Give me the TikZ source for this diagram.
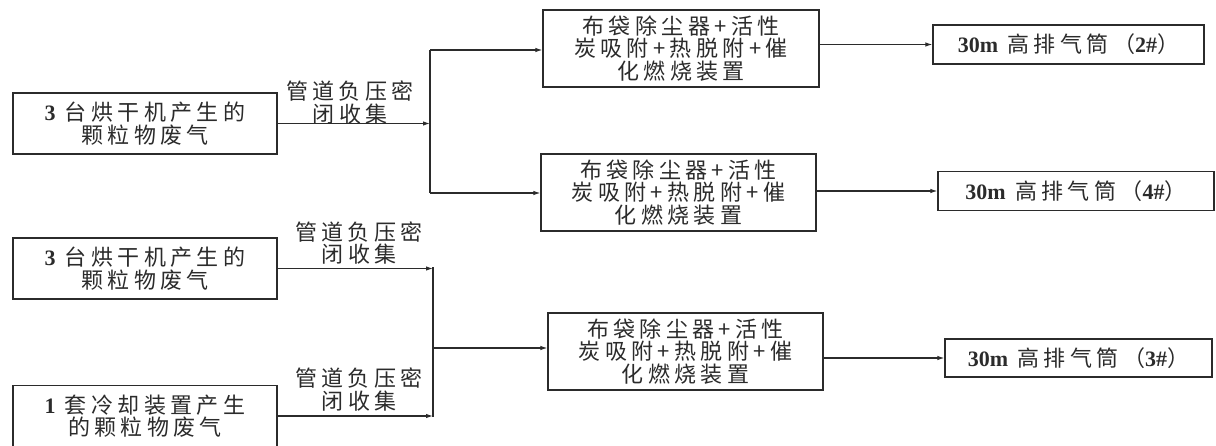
\documentclass[tikz,border=0pt]{standalone}
\usepackage{fontspec}
\setmainfont[LetterSpace=20]{Noto Sans CJK SC}
\newfontfamily\latn{Liberation Serif}
\usepackage{xcolor}
\definecolor{ink}{HTML}{2B2B2B}
\usetikzlibrary{arrows.meta}

\begin{document}
\begin{tikzpicture}[x=1pt,y=-1pt,
  every node/.style={font=\fontsize{22}{22.5}\selectfont, text=ink, align=center, inner sep=0pt},
  box/.style={draw=ink, line width=1.2pt, minimum width=264pt, minimum height=61pt},
  unitbox/.style={box, minimum width=276pt, minimum height=77pt},
  stackbox/.style={box, minimum width=271pt, minimum height=39pt},
  arr/.style={draw=ink, line width=1.1pt, -{Latex[length=7pt,width=4.5pt]}},
  bus/.style={draw=ink, line width=1.2pt}]
\useasboundingbox (0,0) rectangle (1216,445);
\clip (0,0) rectangle (1216,445);
\node[box] (src1) at (145,123.5) {{\latn\bfseries 3} 台烘干机产生的\\颗粒物废气};
\node[box] (src2) at (145,268.5) {{\latn\bfseries 3} 台烘干机产生的\\颗粒物废气};
\node[box] (src3) at (145,416) {{\latn\bfseries 1} 套冷却装置产生\\的颗粒物废气};
\node (pipe1) at (350,102.5) {管道负压密\\闭收集};
\node (pipe2) at (359,243) {管道负压密\\闭收集};
\node (pipe3) at (359,389.5) {管道负压密\\闭收集};
\node[unitbox] (unit1) at (681,48.5) {布袋除尘器+活性\\炭吸附+热脱附+催\\化燃烧装置};
\node[unitbox, minimum width=275pt] (unit2) at (678.5,192.5) {布袋除尘器+活性\\炭吸附+热脱附+催\\化燃烧装置};
\node[unitbox, minimum width=275pt] (unit3) at (685.5,351.5) {布袋除尘器+活性\\炭吸附+热脱附+催\\化燃烧装置};
\node[stackbox] (stack1) at (1068.5,44.5) {{\latn\bfseries 30m} 高排气筒（{\latn\bfseries 2\#}）};
\node[stackbox, minimum width=276pt] (stack2) at (1076,191) {{\latn\bfseries 30m} 高排气筒（{\latn\bfseries 4\#}）};
\node[stackbox, minimum width=267pt, minimum height=38pt] (stack3) at (1078.5,358) {{\latn\bfseries 30m} 高排气筒（{\latn\bfseries 3\#}）};
\coordinate (j1) at (430,50);
\coordinate (j2) at (430,193);
\coordinate (k1) at (433,267);
\coordinate (k2) at (433,417);
\coordinate (k3) at (433,348);
\draw[bus] (j1) -- (j2);
\draw[bus] (k1) -- (k2);
\draw[arr] (src1.east) -- (src1.east -| j1);
\draw[arr] (src2.east) -- (src2.east -| k1);
\draw[arr] (src3.east) -- (src3.east -| k2);
\draw[arr] (j1) -- (j1 -| unit1.west);
\draw[arr] (j2) -- (j2 -| unit2.west);
\draw[arr] (k3) -- (k3 -| unit3.west);
\draw[arr] (unit1.east |- stack1) -- (stack1.west);
\draw[arr] (unit2.east |- stack2) -- (stack2.west);
\draw[arr] (unit3.east |- stack3) -- (stack3.west);
\end{tikzpicture}
\end{document}
